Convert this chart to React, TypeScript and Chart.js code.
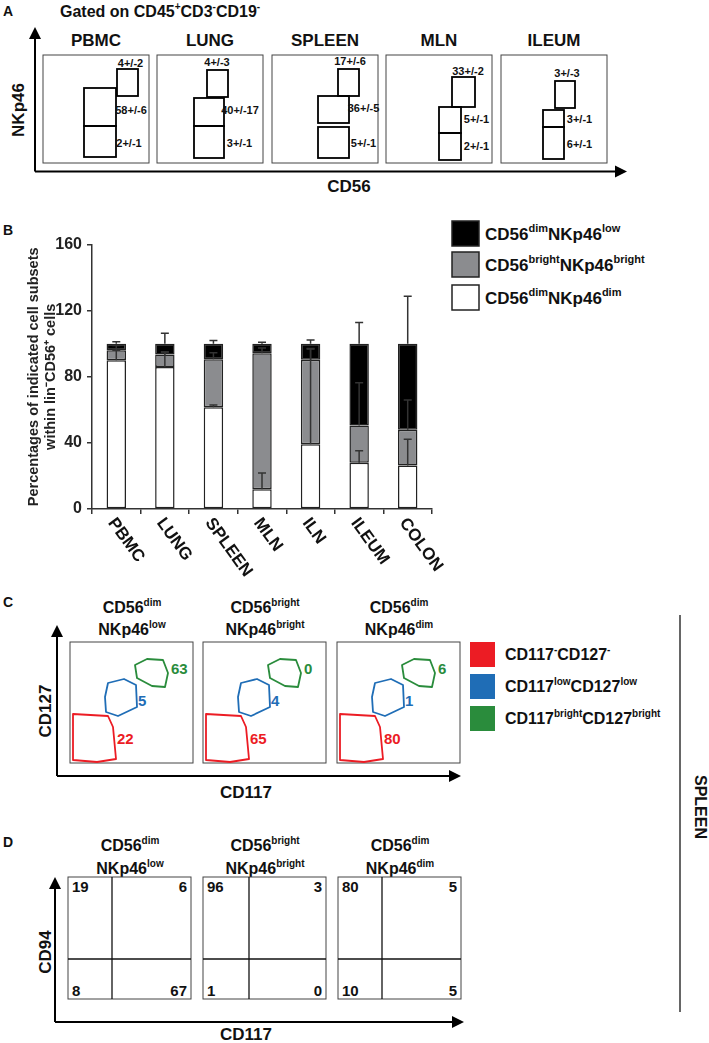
import { useEffect, useRef } from "react"
import { Chart, registerables } from "chart.js"

Chart.register(...registerables)

// ---- panel B data (percent of lin-CD56+ cells) ----
const tissues = ["PBMC", "LUNG", "SPLEEN", "MLN", "ILN", "ILEUM", "COLON"]
const dimDimValues = [90, 86, 61.5, 12, 39.2, 28, 26.3]
const brightValues = [6, 7.5, 29.1, 82.3, 51.1, 22.5, 21.7]
const dimLowValues = [4, 6.5, 9.4, 5.7, 9.7, 49.5, 52]
const dimDimErrors = [6, 9, 1.4, 9.8, 58, 7.2, 15.9]
const brightErrors = [3, 1.5, 3.9, 3.2, 6.5, 25.9, 18]
const dimLowErrors = [1.2, 6.3, 2, 0.9, 2.3, 12.8, 28.8]
const yMin = 0
const yMax = 160
const yStep = 40

// ---- panel A gate frequencies ----
const aTissues = ["PBMC", "LUNG", "SPLEEN", "MLN", "ILEUM"]
const aGateValues = [
  ["4+/-2", "58+/-6", "2+/-1"],
  ["4+/-3", "40+/-17", "3+/-1"],
  ["17+/-6", "36+/-5", "5+/-1"],
  ["33+/-2", "5+/-1", "2+/-1"],
  ["3+/-3", "3+/-1", "6+/-1"],
]

// ---- panel C / D values ----
const cGateValues = [
  ["63", "5", "22"],
  ["0", "4", "65"],
  ["6", "1", "80"],
]
const dQuadValues = [
  ["19", "6", "8", "67"],
  ["96", "3", "1", "0"],
  ["80", "5", "10", "5"],
]

type Part = [string, boolean?]

const subsetNames: Part[][] = [
  [["CD56"], ["dim", true], ["NKp46"], ["dim", true]],
  [["CD56"], ["bright", true], ["NKp46"], ["bright", true]],
  [["CD56"], ["dim", true], ["NKp46"], ["low", true]],
]
const subsetColors = ["#ffffff", "#8b8c8f", "#000000"]

const plotTitles: Part[][][] = [
  [[["CD56"], ["dim", true]], [["NKp46"], ["low", true]]],
  [[["CD56"], ["bright", true]], [["NKp46"], ["bright", true]]],
  [[["CD56"], ["dim", true]], [["NKp46"], ["dim", true]]],
]
const cLegend: Part[][] = [
  [["CD117"], ["-", true], ["CD127"], ["-", true]],
  [["CD117"], ["low", true], ["CD127"], ["low", true]],
  [["CD117"], ["bright", true], ["CD127"], ["bright", true]],
]
const cColors = ["#ec1c24", "#1f6db6", "#2a8c3c"]

// ---- layout ----
const FONT = "'Liberation Sans', Arial, Helvetica, sans-serif"
const aFrameX = [43, 157, 272, 386, 501]
const aGateRects = [
  [[74, 14, 21, 27], [41, 33, 32, 38], [41, 71, 32, 31]],
  [[50, 15, 21, 27], [37, 43, 30, 28], [37, 71, 30, 32]],
  [[66, 14, 21, 27], [46, 41, 31, 27], [46, 72, 31, 31]],
  [[66, 22, 23, 30], [53, 52, 22, 26], [53, 78, 22, 27]],
  [[54, 26, 20, 27], [42, 55, 21, 17], [42, 72, 21, 32]],
]
const aLabelPos = [
  [[87.5, 8], [88, 55], [86, 88]],
  [[60, 7], [83, 55], [82.5, 88]],
  [[78, 6], [91.5, 53], [91.5, 88]],
  [[82, 16], [90.5, 64], [90.5, 91]],
  [[66, 18], [78.5, 64], [78.5, 89]],
]
const cFrameX = [70, 203, 337]
const cGateShapes = [
  [[65, 23], [77, 17], [93, 18], [98, 31], [95, 45], [82, 44], [67, 36]],
  [[38, 41], [54, 37], [66, 43], [67, 65], [48, 74], [36, 70], [35, 55]],
  [[3, 72], [38, 74], [43, 85], [46, 117], [27, 120], [3, 118]],
]
const cLabelPos = [[101, 26], [68, 58], [47, 96]]
const dFrameX = [68, 203, 338]
const dSplitX = [44, 46, 44]

function Rich({ x, y, parts, size, anchor = "start", rotate }: {
  x: number; y: number; parts: Part[]; size: number; anchor?: string; rotate?: number
}) {
  const sup = Math.round(size * 0.62)
  const shift = size * 0.42
  let up = false
  const spans = parts.map(([t, s], i) => {
    let dy = 0
    if (s && !up) { dy = -shift; up = true }
    else if (!s && up) { dy = shift; up = false }
    return (
      <tspan key={i} dy={dy || undefined} fontSize={s ? sup : size}>{t}</tspan>
    )
  })
  return (
    <text x={x} y={y} fontSize={size} textAnchor={anchor}
      transform={rotate ? `rotate(${rotate} ${x} ${y})` : undefined}>{spans}</text>
  )
}

function Arrows({ ox, oy, top, right }: { ox: number; oy: number; top: number; right: number }) {
  return (
    <g>
      <line x1={ox} y1={top + 10} x2={ox} y2={oy} stroke="#000" strokeWidth={2} />
      <line x1={ox} y1={oy} x2={right - 10} y2={oy} stroke="#000" strokeWidth={2} />
      <polygon points={`${ox - 6},${top + 12} ${ox + 6},${top + 12} ${ox},${top}`} fill="#000" />
      <polygon points={`${right - 12},${oy - 6} ${right - 12},${oy + 6} ${right},${oy}`} fill="#000" />
    </g>
  )
}

const errorSets = [dimDimErrors, brightErrors, dimLowErrors]

const errorBarsPlugin = {
  id: "errorBars",
  afterDatasetsDraw(chart: any) {
    const { ctx } = chart
    const y = chart.scales.y
    ctx.save()
    ctx.strokeStyle = "#333"
    ctx.lineWidth = 1.5
    chart.data.datasets.forEach((_: any, di: number) => {
      const meta = chart.getDatasetMeta(di)
      meta.data.forEach((bar: any, i: number) => {
        let top = 0
        for (let k = 0; k <= di; k++) top += chart.data.datasets[k].data[i]
        const y0 = y.getPixelForValue(top)
        const y1 = y.getPixelForValue(top + errorSets[di][i])
        ctx.beginPath()
        ctx.moveTo(bar.x, y0)
        ctx.lineTo(bar.x, y1)
        ctx.moveTo(bar.x - 4, y1)
        ctx.lineTo(bar.x + 4, y1)
        ctx.stroke()
      })
    })
    ctx.restore()
  },
}

const categoryLabelsPlugin = {
  id: "categoryLabels",
  afterDraw(chart: any) {
    const { ctx, chartArea } = chart
    const x = chart.scales.x
    ctx.save()
    ctx.font = `bold 17px ${FONT}`
    ctx.fillStyle = "#111"
    ctx.textAlign = "left"
    ctx.textBaseline = "top"
    chart.data.labels.forEach((label: string, i: number) => {
      ctx.save()
      ctx.translate(x.getPixelForValue(i) + 2, chartArea.bottom + 6)
      ctx.rotate((54 * Math.PI) / 180)
      ctx.fillText(label, 0, 0)
      ctx.restore()
    })
    ctx.restore()
  },
}

function SubsetChart() {
  const chartRef = useRef<HTMLCanvasElement>(null)
  const chartInstance = useRef<Chart | null>(null)

  useEffect(() => {
    if (!chartRef.current) return
    if (chartInstance.current) chartInstance.current.destroy()
    const ctx = chartRef.current.getContext("2d")
    if (!ctx) return

    const series = [dimDimValues, brightValues, dimLowValues]
    chartInstance.current = new Chart(ctx, {
      type: "bar",
      data: {
        labels: tissues,
        datasets: series.map((data, i) => ({
          label: subsetNames[i].map((p) => p[0]).join(""),
          data,
          backgroundColor: subsetColors[i],
          borderColor: "#222",
          borderWidth: 1.5,
          borderSkipped: false,
          barPercentage: 0.4,
          categoryPercentage: 1,
        })),
      },
      options: {
        animation: false,
        responsive: false,
        layout: { padding: { top: 11, right: 18, left: 0, bottom: 0 } },
        plugins: { legend: { display: false }, tooltip: { enabled: false } },
        scales: {
          x: {
            stacked: true,
            grid: { display: true, drawOnChartArea: false, tickLength: 5, color: "#333", lineWidth: 1.5, offset: true },
            border: { color: "#333", width: 1.5 },
            ticks: { display: false },
            afterFit: (s: any) => { s.height = 91 },
          },
          y: {
            stacked: true,
            min: yMin,
            max: yMax,
            ticks: { stepSize: yStep, color: "#222", padding: 5, font: { family: FONT, size: 16, weight: "bold" } },
            grid: { drawOnChartArea: false, tickLength: 5, color: "#333", lineWidth: 1.5 },
            border: { color: "#333", width: 1.5 },
            title: {
              display: true,
              text: ["Percentages of indicated cell subsets", "within lin\u207BCD56\u207A cells"],
              color: "#222",
              padding: { top: 26, bottom: 0 },
              font: { family: FONT, size: 14.5, weight: "bold", lineHeight: 1.17 },
            },
            afterFit: (s: any) => { s.width = 92 },
          },
        },
      },
      plugins: [errorBarsPlugin, categoryLabelsPlugin],
    })

    return () => {
      if (chartInstance.current) {
        chartInstance.current.destroy()
        chartInstance.current = null
      }
    }
  }, [])

  return (
    <canvas ref={chartRef} width={450} height={370}
      style={{ position: "absolute", left: 0, top: 230, width: 450, height: 370 }} />
  )
}

export default function App() {
  return (
    <div style={{ position: "absolute", left: 0, top: 0, width: 709, height: 1043, background: "#fff", overflow: "hidden" }}>
      <svg width={709} height={1043} style={{ position: "absolute", left: 0, top: 0 }}
        fontFamily={FONT} fontWeight="bold" fill="#111">
        {/* panel A */}
        <text x={3} y={16} fontSize={14}>A</text>
        <Rich x={60} y={17} size={16} parts={[["Gated on CD45"], ["+", true], ["CD3"], ["-", true], ["CD19"], ["-", true]]} />
        <Arrows ox={35} oy={171.5} top={27} right={627} />
        <text x={18} y={110} fontSize={17} textAnchor="middle" dominantBaseline="central" transform="rotate(-90 18 110)">NKp46</text>
        <text x={349} y={186} fontSize={17} textAnchor="middle" dominantBaseline="central">CD56</text>
        {aTissues.map((t, i) => {
          const fx = aFrameX[i]
          return (
            <g key={t}>
              <text x={fx + 53} y={46} fontSize={17} textAnchor="middle">{t}</text>
              <rect x={fx} y={55} width={106} height={108} fill="none" stroke="#444" strokeWidth={1} />
              {aGateRects[i].map(([gx, gy, gw, gh], j) => (
                <rect key={j} x={fx + gx} y={55 + gy} width={gw} height={gh} fill="none" stroke="#000" strokeWidth={1.8} />
              ))}
              {aGateValues[i].map((v, j) => (
                <text key={j} x={fx + aLabelPos[i][j][0]} y={55 + aLabelPos[i][j][1]} fontSize={11}
                  textAnchor="middle" dominantBaseline="central">{v}</text>
              ))}
            </g>
          )
        })}

        {/* panel B legend */}
        <text x={3} y={235} fontSize={14}>B</text>
        {[2, 1, 0].map((k, row) => {
          const y = [221, 252, 285][row]
          return (
            <g key={k}>
              <rect x={452} y={y} width={27} height={25} fill={subsetColors[k]} stroke="#222" strokeWidth={1.5} />
              <Rich x={485} y={y + 18.5} size={17} parts={subsetNames[k]} />
            </g>
          )
        })}

        {/* panel C */}
        <text x={3} y={607} fontSize={14}>C</text>
        <Arrows ox={57} oy={776} top={625} right={461} />
        <text x={45} y={711} fontSize={17} textAnchor="middle" dominantBaseline="central" transform="rotate(-90 45 711)">CD127</text>
        <text x={246} y={792} fontSize={17} textAnchor="middle" dominantBaseline="central">CD117</text>
        {cFrameX.map((fx, i) => (
          <g key={i}>
            <Rich x={fx + 62} y={613} size={16} anchor="middle" parts={plotTitles[i][0]} />
            <Rich x={fx + 62} y={635} size={16} anchor="middle" parts={plotTitles[i][1]} />
            <rect x={fx} y={642} width={123} height={121} fill="none" stroke="#444" strokeWidth={1} />
            {cGateShapes.map((pts, j) => (
              <polygon key={j} points={pts.map(([px, py]) => `${fx + px},${642 + py}`).join(" ")}
                fill="none" stroke={cColors[2 - j]} strokeWidth={1.8} strokeLinejoin="round" />
            ))}
            {cGateValues[i].map((v, j) => (
              <text key={j} x={fx + cLabelPos[j][0]} y={642 + cLabelPos[j][1]} fontSize={15}
                fill={cColors[2 - j]} dominantBaseline="central">{v}</text>
            ))}
          </g>
        ))}
        {cLegend.map((parts, i) => {
          const y = [642, 674, 706][i]
          return (
            <g key={i}>
              <rect x={470} y={y} width={25} height={25} fill={cColors[i]} />
              <Rich x={505} y={y + 18} size={16} parts={parts} />
            </g>
          )
        })}
        <line x1={680} y1={615} x2={680} y2={1012} stroke="#333" strokeWidth={1.5} />
        <text x={700} y={807} fontSize={16} textAnchor="middle" dominantBaseline="central" transform="rotate(90 700 807)">SPLEEN</text>

        {/* panel D */}
        <text x={3} y={847} fontSize={14}>D</text>
        <Arrows ox={55} oy={1022} top={877} right={464} />
        <text x={45} y={952} fontSize={17} textAnchor="middle" dominantBaseline="central" transform="rotate(-90 45 952)">CD94</text>
        <text x={246} y={1034} fontSize={17} textAnchor="middle" dominantBaseline="central">CD117</text>
        {dFrameX.map((fx, i) => (
          <g key={i}>
            <Rich x={fx + 62} y={851} size={16} anchor="middle" parts={plotTitles[i][0]} />
            <Rich x={fx + 62} y={874} size={16} anchor="middle" parts={plotTitles[i][1]} />
            <rect x={fx} y={877} width={123} height={122} fill="none" stroke="#444" strokeWidth={1} />
            <line x1={fx + dSplitX[i]} y1={877} x2={fx + dSplitX[i]} y2={999} stroke="#111" strokeWidth={1.3} />
            <line x1={fx} y1={959} x2={fx + 123} y2={959} stroke="#111" strokeWidth={1.3} />
            {dQuadValues[i].map((v, j) => (
              <text key={j} x={fx + (j % 2 === 0 ? 4 : 119)} y={877 + (j < 2 ? 9 : 113)} fontSize={15}
                fontFamily={`'Liberation Sans Narrow', ${FONT}`}
                textAnchor={j % 2 === 0 ? "start" : "end"} dominantBaseline="central">{v}</text>
            ))}
          </g>
        ))}
      </svg>
      <SubsetChart />
    </div>
  )
}
